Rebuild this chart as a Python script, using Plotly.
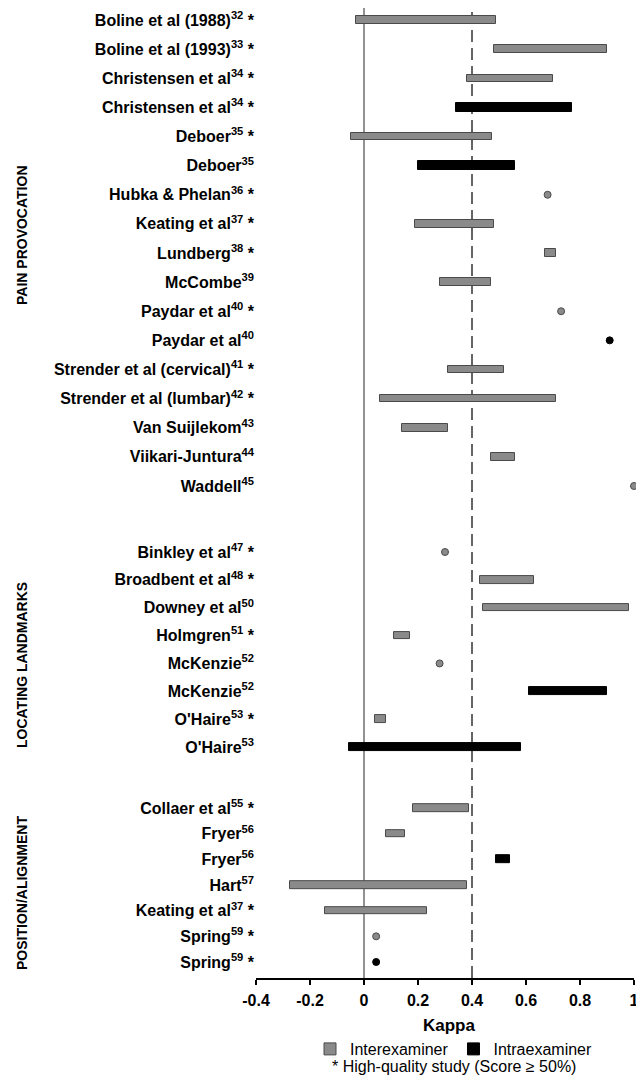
import plotly.graph_objects as go

# ---------------- data ----------------
studies = ["Boline et al (1988)", "Boline et al (1993)", "Christensen et al", "Christensen et al",
           "Deboer", "Deboer", "Hubka & Phelan", "Keating et al", "Lundberg", "McCombe",
           "Paydar et al", "Paydar et al", "Strender et al (cervical)", "Strender et al (lumbar)",
           "Van Suijlekom", "Viikari-Juntura", "Waddell",
           "Binkley et al", "Broadbent et al", "Downey et al", "Holmgren", "McKenzie", "McKenzie",
           "O'Haire", "O'Haire",
           "Collaer et al", "Fryer", "Fryer", "Hart", "Keating et al", "Spring", "Spring"]
refs = [32, 33, 34, 34, 35, 35, 36, 37, 38, 39, 40, 40, 41, 42, 43, 44, 45,
        47, 48, 50, 51, 52, 52, 53, 53,
        55, 56, 56, 57, 37, 59, 59]
high_quality = [1, 1, 1, 1, 1, 0, 1, 1, 1, 0, 1, 0, 1, 1, 0, 0, 0,
                1, 1, 0, 1, 0, 0, 1, 0,
                1, 0, 0, 0, 1, 1, 1]
examiner = ["Inter", "Inter", "Inter", "Intra", "Inter", "Intra", "Inter", "Inter", "Inter", "Inter",
            "Inter", "Intra", "Inter", "Inter", "Inter", "Inter", "Inter",
            "Inter", "Inter", "Inter", "Inter", "Inter", "Intra", "Inter", "Intra",
            "Inter", "Inter", "Intra", "Inter", "Inter", "Inter", "Intra"]
group = [0] * 17 + [1] * 8 + [2] * 7
group_names = ["PAIN PROVOCATION", "LOCATING LANDMARKS", "POSITION/ALIGNMENT"]
kappa_low = [-0.03, 0.48, 0.38, 0.34, -0.05, 0.20, 0.68, 0.19, 0.67, 0.28, 0.73, 0.91, 0.31, 0.06,
             0.14, 0.47, 1.00,
             0.30, 0.43, 0.44, 0.11, 0.28, 0.61, 0.04, -0.055,
             0.18, 0.08, 0.49, -0.275, -0.145, 0.045, 0.045]
kappa_high = [0.49, 0.90, 0.70, 0.77, 0.475, 0.56, 0.68, 0.48, 0.71, 0.47, 0.73, 0.91, 0.52, 0.71,
              0.31, 0.56, 1.00,
              0.30, 0.63, 0.98, 0.17, 0.28, 0.90, 0.08, 0.58,
              0.39, 0.15, 0.54, 0.38, 0.235, 0.045, 0.045]
x_ticks = [-0.4, -0.2, 0, 0.2, 0.4, 0.6, 0.8, 1]
x_tick_labels = ["-0.4", "-0.2", "0", "0.2", "0.4", "0.6", "0.8", "1"]
ref_solid = 0
ref_dashed = 0.4

# ---------------- layout constants (pixels in the figure) ----------------
FONT = "Liberation Sans, Arial, sans-serif"
FIG_W, FIG_H = 636, 1068
M_L, M_R, M_T = 248, 10, 0
AXIS_Y = 970                      # pixel of the x axis line
M_B = FIG_H - AXIS_Y
PLOT_H = AXIS_Y - M_T
PW = FIG_W - M_L - M_R
X_RANGE = [-0.4, 1.0000001]
# first / last row pixel centre of each group panel
GROUP_PIX = [(12, 478), (544, 739), (800, 954)]
GROUP_LABEL_PIX = [227, 657, 885]
KAPPA_PIX, LEGEND_PIX, NOTE_PIX = 1017, 1041, 1058
GRAY = "#8a8a8a"
GRAY_LINE = "#4a4a4a"
BAR_PX = {"Inter": 7.5, "Intra": 8.5}


def paper_y(pix):
    return (AXIS_Y - pix) / PLOT_H


def paper_x(pix):
    return (pix - M_L) / PW


fig = go.Figure()
layout_axes = {}
for g in range(3):
    idx = [i for i in range(len(studies)) if group[i] == g]
    n = len(idx)
    p0, p1 = GROUP_PIX[g]
    step = (p1 - p0) / (n - 1)
    top_pix = max(M_T, p0 - step / 2)
    bot_pix = AXIS_Y if g == 2 else p1 + step / 2
    r_top = (top_pix - p0) / step
    r_bot = (bot_pix - p0) / step
    yname = "y" if g == 0 else "y%d" % (g + 1)
    lname = "yaxis" if g == 0 else "yaxis%d" % (g + 1)
    local = {i: k for k, i in enumerate(idx)}
    labels = ["<b>%s<sup>%d</sup>%s</b>" % (studies[i], refs[i], " *" if high_quality[i] else "")
              for i in idx]
    layout_axes[lname] = dict(
        domain=[paper_y(bot_pix), paper_y(top_pix)], anchor="x",
        range=[r_bot, r_top], tickvals=list(range(n)), ticktext=labels,
        showgrid=False, zeroline=False, showline=False, ticks="", ticklabelstandoff=1,
        ticklabeloverflow="allow",
        tickfont=dict(family=FONT, size=16, color="black"))

    for kind, nm, fill, line in [("Inter", "Interexaminer", GRAY, GRAY_LINE),
                                 ("Intra", "Intraexaminer", "black", "black")]:
        ib = [i for i in idx if examiner[i] == kind and kappa_high[i] != kappa_low[i]]
        ip = [i for i in idx if examiner[i] == kind and kappa_high[i] == kappa_low[i]]
        fig.add_trace(go.Bar(
            orientation="h", xaxis="x", yaxis=yname,
            y=[local[i] for i in ib], base=[kappa_low[i] for i in ib],
            x=[kappa_high[i] - kappa_low[i] for i in ib],
            width=BAR_PX[kind] / step,
            marker=dict(color=fill, line=dict(color=line, width=1)),
            name=nm, legendgroup=kind, showlegend=(g == 0)))
        fig.add_trace(go.Scatter(
            xaxis="x", yaxis=yname,
            y=[local[i] for i in ip], x=[kappa_low[i] for i in ip], mode="markers",
            marker=dict(size=7, color=fill, line=dict(color=line, width=1)),
            legendgroup=kind, showlegend=False, cliponaxis=False))

    fig.add_annotation(text="<b>%s</b>" % group_names[g], xref="paper", yref="paper",
                       x=paper_x(14), y=paper_y(GROUP_LABEL_PIX[g]), textangle=-90,
                       showarrow=False, font=dict(family=FONT, size=14, color="black"),
                       xanchor="center", yanchor="middle")

# reference lines through the whole plot height
fig.add_shape(type="line", xref="x", yref="paper", x0=ref_solid, x1=ref_solid, y0=0, y1=1,
              line=dict(color="#6e6e6e", width=1.5), layer="below")
fig.add_shape(type="line", xref="x", yref="paper", x0=ref_dashed, x1=ref_dashed, y0=0, y1=1,
              line=dict(color="#333333", width=1.5, dash="12px,6px"), layer="below")

fig.add_annotation(text="<b>Kappa</b>", xref="paper", yref="paper", x=paper_x(441),
                   y=paper_y(KAPPA_PIX), xanchor="center", yanchor="middle", showarrow=False,
                   font=dict(family=FONT, size=17, color="black"))
fig.add_annotation(text="* High-quality study (Score \u2265 50%)", xref="paper", yref="paper",
                   x=paper_x(322), y=paper_y(NOTE_PIX), xanchor="left", yanchor="middle",
                   showarrow=False, font=dict(family=FONT, size=16, color="black"))

fig.update_layout(
    width=FIG_W, height=FIG_H,
    margin=dict(l=M_L, r=M_R, t=M_T, b=M_B, autoexpand=False),
    paper_bgcolor="white", plot_bgcolor="white",
    barmode="overlay", bargap=0,
    font=dict(family=FONT, color="black"),
    legend=dict(orientation="h", x=paper_x(302), y=paper_y(LEGEND_PIX), xanchor="left",
                yanchor="middle", font=dict(family=FONT, size=16, color="black"),
                itemwidth=30, bgcolor="rgba(0,0,0,0)", tracegroupgap=0),
    xaxis=dict(range=X_RANGE, tickvals=x_ticks, ticktext=["<b>%s</b>" % t for t in x_tick_labels],
               anchor="y3", showline=True, linecolor="black", linewidth=1.5, ticks="outside",
               ticklen=5, tickwidth=1.5, tickcolor="black", showgrid=False, zeroline=False,
               ticklabelstandoff=2, ticklabeloverflow="allow",
               tickfont=dict(family=FONT, size=16, color="black")),
    **layout_axes,
)

fig.write_html("out.html")
